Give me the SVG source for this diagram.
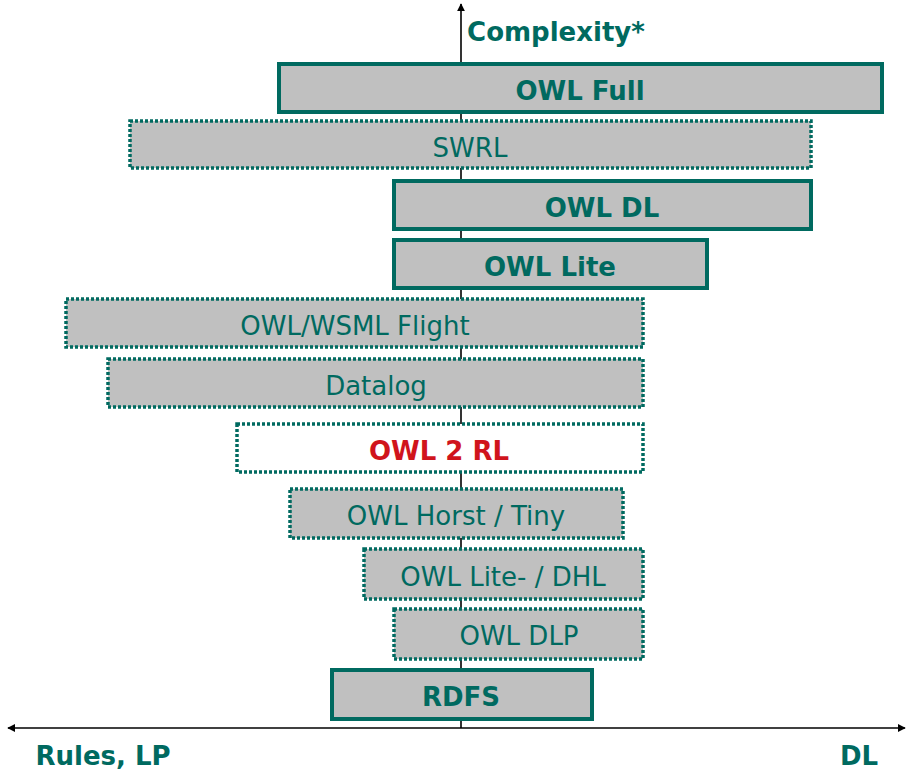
<svg xmlns="http://www.w3.org/2000/svg" width="907" height="771" viewBox="0 0 907 771">
<style>
.box{fill:#c0c0c0;stroke:#006a60;stroke-width:4}
.dot{fill:#c0c0c0;stroke:#006a60;stroke-width:3.5;stroke-dasharray:3 2}
.white{fill:#ffffff}
.t{font-family:"DejaVu Sans",Verdana,sans-serif;font-size:26px;fill:#006a60;text-anchor:middle}
.b{font-weight:bold}
.red{fill:#d0141c}
.ax{stroke:#000;stroke-width:1.6;fill:none}
</style>
<defs>
<marker id="ah" viewBox="0 0 10 10" refX="9" refY="5" markerWidth="8" markerHeight="8" markerUnits="userSpaceOnUse" orient="auto-start-reverse">
<path d="M0,0 L10,5 L0,10 z" fill="#000"/>
</marker>
</defs>
<g id="connectors">
<line class="ax" x1="461" y1="728" x2="461" y2="4" marker-end="url(#ah)"/>
<line class="ax" x1="8" y1="728" x2="905" y2="728" marker-start="url(#ah)" marker-end="url(#ah)"/>
</g>
<g id="owl-full"><rect class="box" x="279" y="64" width="603" height="48"/><text class="t b" x="580" y="100">OWL Full</text></g>
<g id="swrl"><rect class="dot" x="130" y="121" width="681" height="47"/><text class="t" x="470" y="157">SWRL</text></g>
<g id="owl-dl"><rect class="box" x="394" y="181" width="417" height="48"/><text class="t b" x="602" y="217">OWL DL</text></g>
<g id="owl-lite"><rect class="box" x="394" y="240" width="313" height="48"/><text class="t b" x="550" y="276">OWL Lite</text></g>
<g id="owl-wsml-flight"><rect class="dot" x="66" y="299" width="577" height="48"/><text class="t" x="355" y="335">OWL/WSML Flight</text></g>
<g id="datalog"><rect class="dot" x="108" y="359" width="535" height="48"/><text class="t" x="376" y="395">Datalog</text></g>
<g id="owl2rl"><rect class="dot white" x="237" y="424" width="406" height="48"/><text class="t b red" x="439" y="460">OWL 2 RL</text></g>
<g id="owl-horst"><rect class="dot" x="290" y="489" width="333" height="49"/><text class="t" x="456" y="525">OWL Horst / Tiny</text></g>
<g id="owl-lite-dhl"><rect class="dot" x="364" y="549" width="279" height="50"/><text class="t" x="503" y="586">OWL Lite- / DHL</text></g>
<g id="owl-dlp"><rect class="dot" x="394" y="609" width="249" height="50"/><text class="t" x="519" y="645">OWL DLP</text></g>
<g id="rdfs"><rect class="box" x="332" y="670" width="260" height="49"/><text class="t b" x="461" y="706">RDFS</text></g>
<text class="t b" x="556" y="41">Complexity*</text>
<text class="t b" x="103" y="765">Rules, LP</text>
<text class="t b" x="859" y="765">DL</text>
</svg>
